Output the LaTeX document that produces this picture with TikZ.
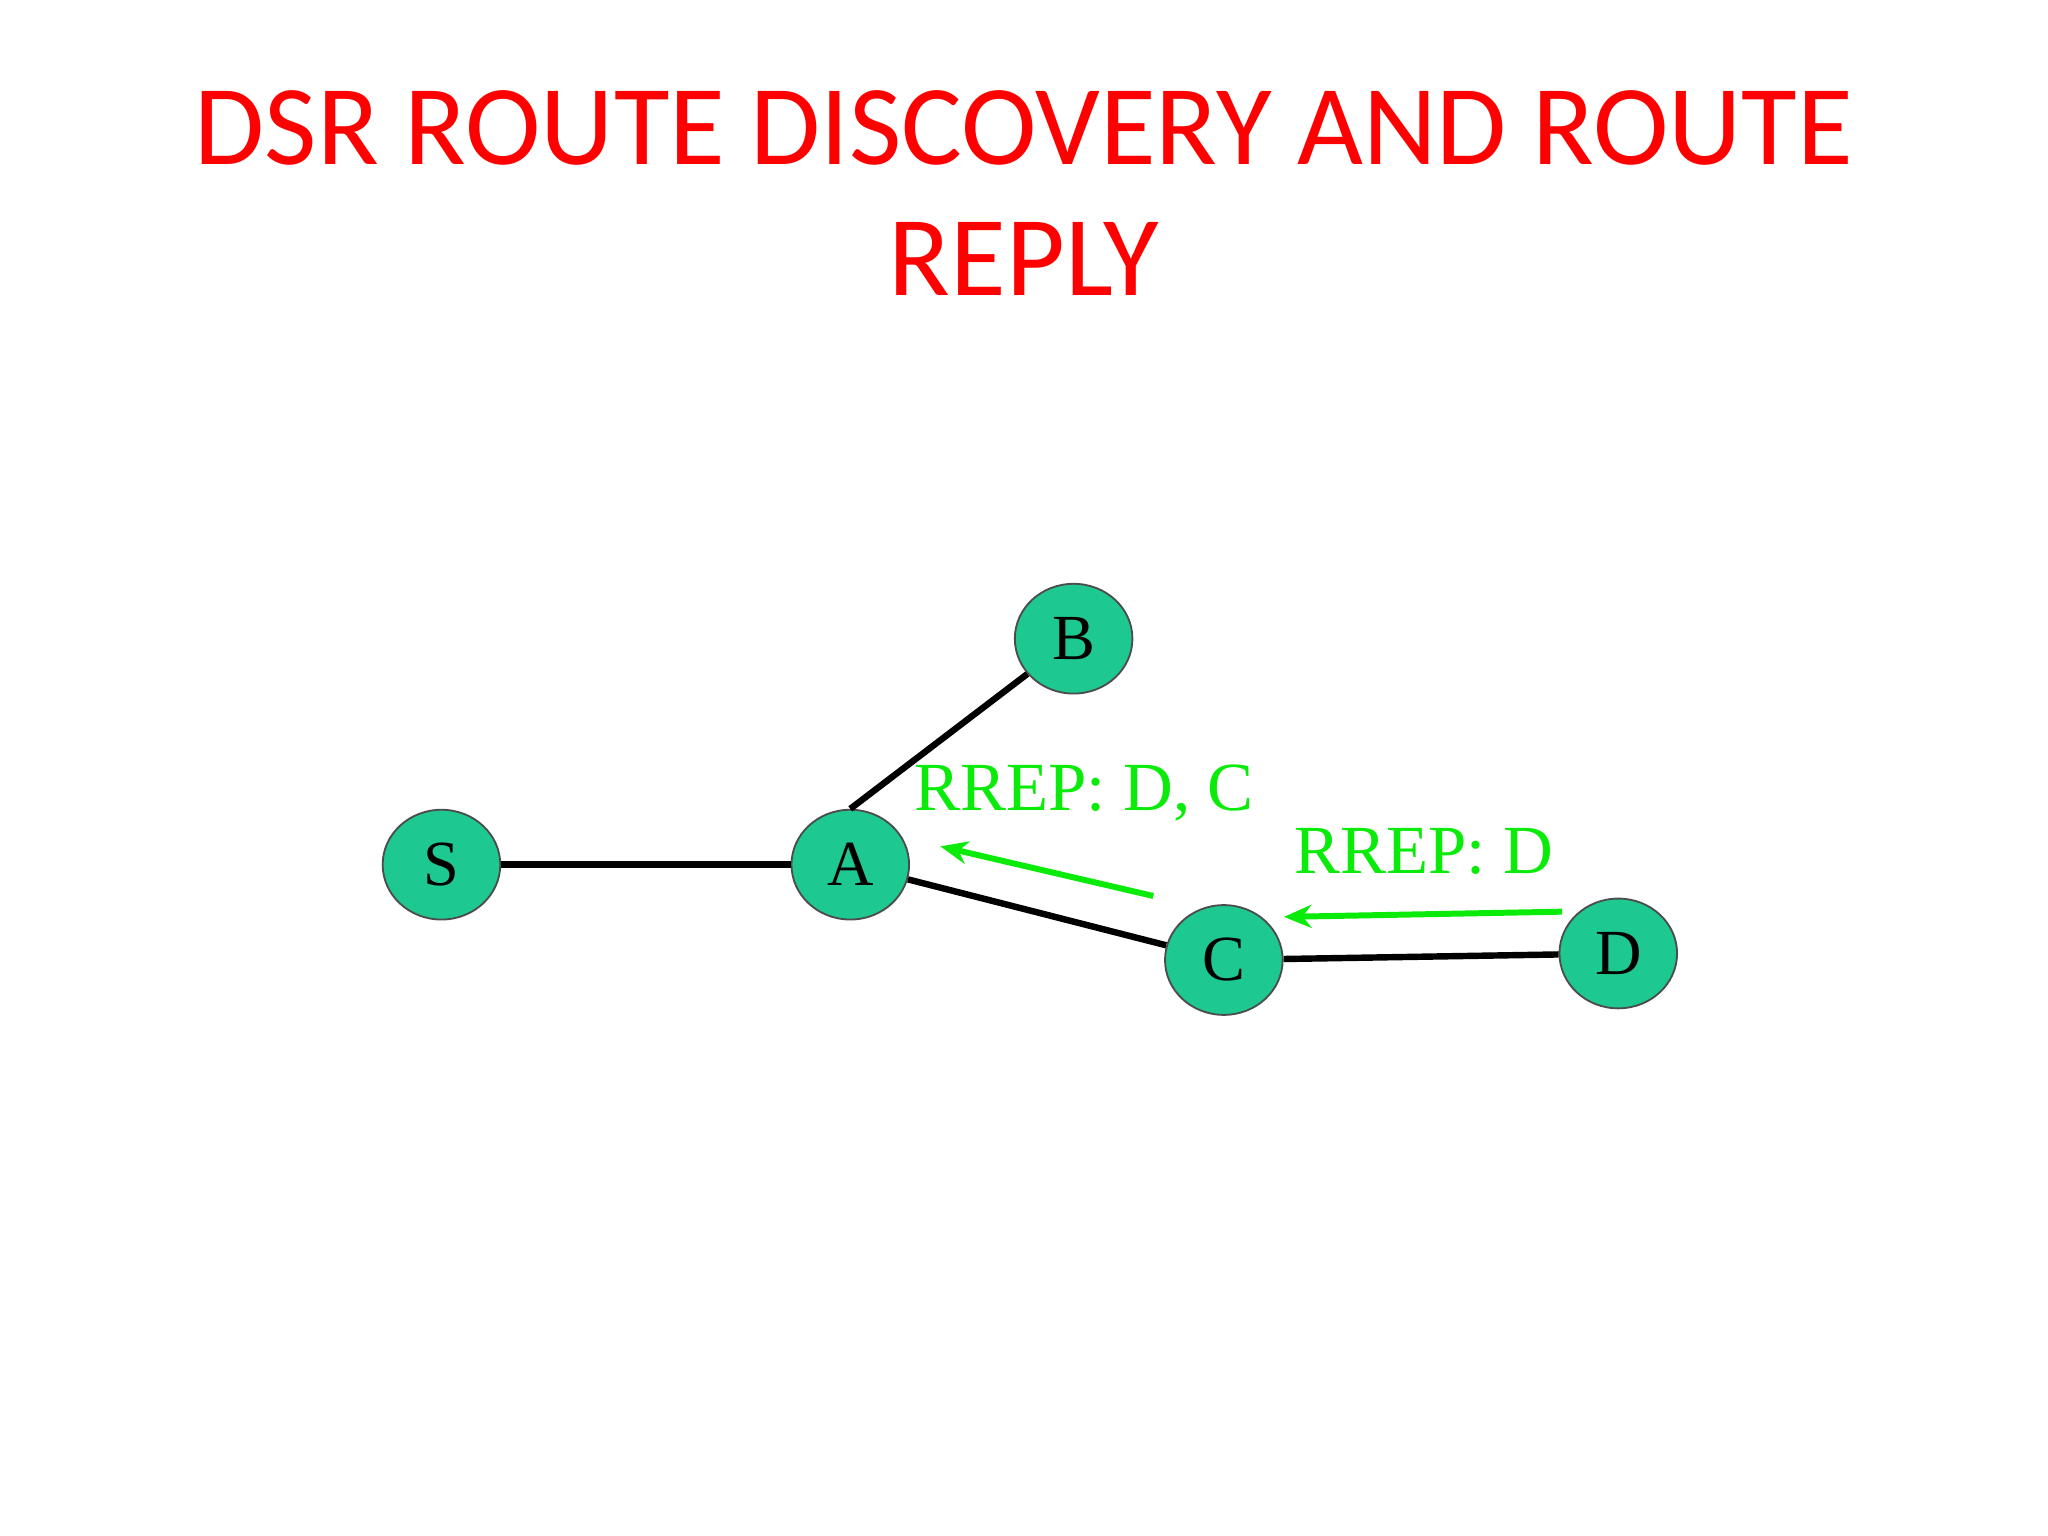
\documentclass[tikz,border=0pt]{standalone}
\usepackage{fontspec}
\setmainfont{Liberation Serif}
\newfontfamily\titlefont{Carlito}
\usetikzlibrary{shapes.geometric,arrows.meta}
\definecolor{nodegreen}{RGB}{30,200,145}
\definecolor{arrgreen}{RGB}{10,235,10}
\tikzset{x=0.01cm,y=-0.01cm,
  net/.style={ellipse,draw=black!70,fill=nodegreen,minimum width=0.9cm,minimum height=0.84cm,inner sep=0pt,font=\fontsize{14}{14}\selectfont},
  link/.style={line width=1.4pt},
  rrep/.style={draw=arrgreen,line width=1.3pt,-{Stealth[length=6pt,width=5pt]}},
  lab/.style={text=arrgreen,font=\fontsize{15}{15}\selectfont}}
\begin{document}
\begin{tikzpicture}
\useasboundingbox[fill=white] (0,0) rectangle (1568,1176);
\node[text=red,font=\titlefont\fontsize{24.8}{28.5}\selectfont,align=center] (title) at (784,148) {DSR ROUTE DISCOVERY AND ROUTE\\REPLY};
\node[net] (S) at (338,662) {S};
\node[net] (A) at (651,662) {A};
\node[net] (B) at (822,489) {B};
\node[net] (C) at (937,735) {C};
\node[net] (D) at (1239,730) {D};
\draw[link] (S) -- (A);
\draw[link] (A.north) -- (B);
\draw[link] (A) -- (C);
\draw[link] (C) -- (D);
\coordinate (r1s) at (883,686); \coordinate (r1e) at (720,648);
\coordinate (r2s) at (1196,698); \coordinate (r2e) at (983,702);
\draw[rrep] (r1s) -- (r1e);
\draw[rrep] (r2s) -- (r2e);
\node[lab] (l1) at (830,607) {RREP: D, C};
\node[lab] (l2) at (1090,652) {RREP: D};
\end{tikzpicture}
\end{document}
